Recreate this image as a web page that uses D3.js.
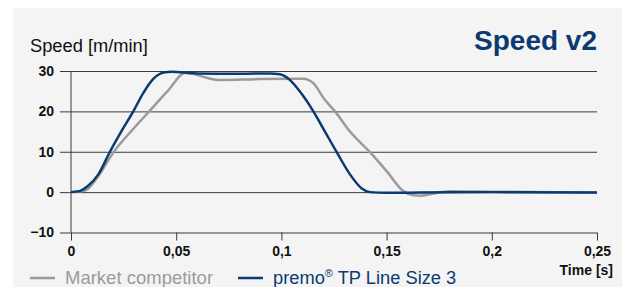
<!DOCTYPE html>
<html>
<head>
<meta charset="utf-8">
<script src="https://cdn.jsdelivr.net/npm/d3@7.9.0/dist/d3.min.js"></script>
<style>
  body { margin: 0; background: #fff; }
  svg { display: block; font-family: "Liberation Sans", Arial, sans-serif; }
</style>
</head>
<body>
<svg id="chart" width="622" height="287"></svg>
<script>
// ----- data -----
const xTicks = [0, 0.05, 0.1, 0.15, 0.2, 0.25];
const xTickLabels = ["0", "0,05", "0,1", "0,15", "0,2", "0,25"];
const yTicks = [-10, 0, 10, 20, 30];

// premo TP Line Size 3
const premoTime  = [0, 0.004, 0.008, 0.013, 0.0185, 0.024, 0.0296, 0.0344, 0.039, 0.044, 0.048, 0.054, 0.06, 0.08, 0.0946, 0.0993, 0.104, 0.1088, 0.1152, 0.1207, 0.1263, 0.1326, 0.1382, 0.1421, 0.15, 0.166, 0.2, 0.25];
const premoSpeed = [0, 0.25, 1.5, 4.4, 10, 15.1, 20, 24.6, 28, 29.6, 29.8, 29.6, 29.4, 29.3, 29.4, 29.2, 27.8, 24.9, 20, 15, 9.9, 4.4, 0.9, 0, -0.15, -0.1, 0, -0.1];

// Market competitor
const compTime  = [0, 0.0067, 0.013, 0.0201, 0.0288, 0.0375, 0.0462, 0.0542, 0.058, 0.064, 0.07, 0.09, 0.1104, 0.1152, 0.12, 0.1255, 0.1326, 0.1421, 0.15, 0.158, 0.1627, 0.166, 0.172, 0.18, 0.2, 0.25];
const compSpeed = [0, 0.4, 4, 9.8, 15.2, 20.2, 25.2, 29.5, 29.3, 28.4, 27.8, 28.0, 28.1, 27, 23.3, 20, 15, 9.9, 5.2, 0.25, -0.8, -0.9, -0.4, 0.2, 0.1, -0.1];

const svg = d3.select("#chart");

// panel background
svg.append("rect").attr("x", 13).attr("y", 8).attr("width", 609).attr("height", 279).attr("fill", "#f4f4f4");

const x = d3.scaleLinear().domain([0, 0.25]).range([71, 597]);
const y = d3.scaleLinear().domain([-10, 30]).range([232.5, 71]);

// y gridlines + labels
const yAxis = svg.append("g")
  .attr("transform", "translate(60,0)")
  .call(d3.axisLeft(y).tickValues(yTicks).tickSize(-(597 - 60)).tickPadding(6).tickFormat(d3.format("d")));
yAxis.select(".domain").remove();
yAxis.selectAll("line").attr("stroke", "#3a3a3a").attr("stroke-width", 1);
yAxis.selectAll("text").attr("font-size", 14).attr("font-weight", "bold").attr("fill", "#111");

// x ticks + labels
const xAxis = svg.append("g")
  .attr("transform", `translate(0,${y(-10)})`)
  .call(d3.axisBottom(x).tickValues(xTicks).tickSize(8).tickPadding(6).tickFormat((d, i) => xTickLabels[i]));
xAxis.select(".domain").remove();
xAxis.selectAll("line").attr("stroke", "#3a3a3a");
xAxis.selectAll("text").attr("font-size", 14).attr("font-weight", "bold").attr("fill", "#111");

// vertical axis line
svg.append("line")
  .attr("x1", x(0)).attr("x2", x(0)).attr("y1", y(30)).attr("y2", y(-10))
  .attr("stroke", "#3a3a3a");

const line = d3.line().x(d => x(d[0])).y(d => y(d[1])).curve(d3.curveMonotoneX);

svg.append("path")
  .datum(d3.zip(compTime, compSpeed))
  .attr("d", line).attr("fill", "none")
  .attr("stroke", "#9b9b9b").attr("stroke-width", 2.5);

svg.append("path")
  .datum(d3.zip(premoTime, premoSpeed))
  .attr("d", line).attr("fill", "none")
  .attr("stroke", "#0b3a72").attr("stroke-width", 2.5);

// titles
svg.append("text").attr("x", 30).attr("y", 52)
  .attr("font-size", 18.3).attr("fill", "#111").text("Speed [m/min]");
svg.append("text").attr("x", 597).attr("y", 50).attr("text-anchor", "end")
  .attr("font-size", 28).attr("font-weight", "bold").attr("fill", "#0b3a70").text("Speed v2");
svg.append("text").attr("x", 613).attr("y", 275).attr("text-anchor", "end")
  .attr("font-size", 14).attr("font-weight", "bold").attr("fill", "#111").text("Time [s]");

// legend
const legend = svg.append("g");
legend.append("line").attr("x1", 30).attr("x2", 55).attr("y1", 278).attr("y2", 278)
  .attr("stroke", "#9b9b9b").attr("stroke-width", 2.5);
legend.append("text").attr("x", 65).attr("y", 284).attr("font-size", 18.5).attr("fill", "#9b9b9b")
  .text("Market competitor");
legend.append("line").attr("x1", 238).attr("x2", 263).attr("y1", 278).attr("y2", 278)
  .attr("stroke", "#0b3a72").attr("stroke-width", 2.5);
const premoLabel = legend.append("text").attr("x", 273).attr("y", 284).attr("font-size", 18.3).attr("fill", "#0b3a72");
premoLabel.append("tspan").text("premo");
premoLabel.append("tspan").attr("font-size", 11).attr("dy", -7).text("®");
premoLabel.append("tspan").attr("dy", 7).text(" TP Line Size 3");
</script>
</body>
</html>
